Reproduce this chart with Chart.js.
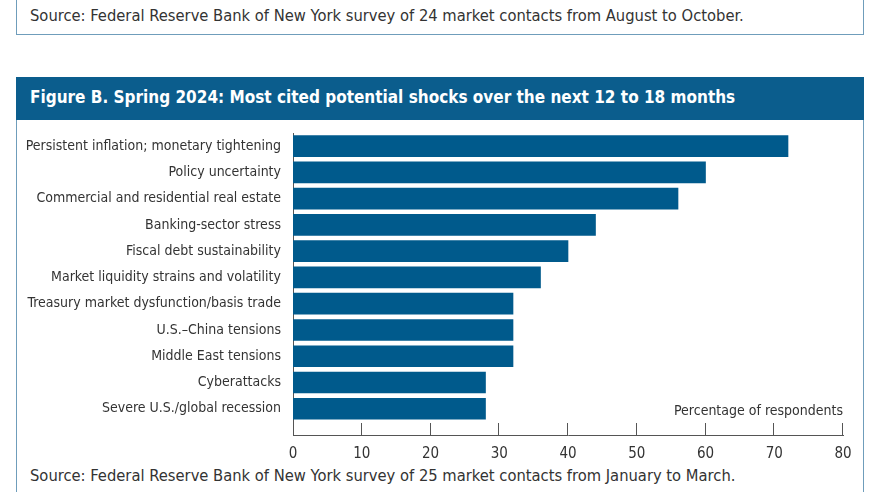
<!DOCTYPE html>
<html><head><meta charset="utf-8">
<script src="https://cdn.jsdelivr.net/npm/chart.js@4.4.1/dist/chart.umd.min.js"></script>
<style>
html,body{margin:0;padding:0;background:#fff;width:870px;height:492px;overflow:hidden;font-family:'DejaVu Sans Condensed','DejaVu Sans',sans-serif;font-stretch:condensed;color:#333}
.box{position:absolute;border:1.5px solid #6f9dbb;box-sizing:border-box}
#top{left:16px;top:-10px;width:848px;height:45px}
#fig{left:16px;top:77px;width:848px;height:440px}
#title{position:absolute;left:16px;top:77px;width:848px;height:43px;background:#0b5d8d;color:#fff;font-weight:bold;font-size:17px;line-height:41px;padding-left:14px;box-sizing:border-box;white-space:nowrap}
.src{position:absolute;left:30px;font-size:16.4px;line-height:18px;white-space:nowrap}
canvas{position:absolute;left:0;top:0}
</style>
</head><body>
<div class="box" id="top"></div>
<div class="src" style="top:7px">Source: Federal Reserve Bank of New York survey of 24 market contacts from August to October.</div>
<div class="box" id="fig"></div>
<div id="title">Figure B. Spring 2024: Most cited potential shocks over the next 12 to 18 months</div>
<div class="src" style="top:467px">Source: Federal Reserve Bank of New York survey of 25 market contacts from January to March.</div>
<canvas id="c" width="870" height="492"></canvas>
<script>
const categories = [
  "Persistent inflation; monetary tightening",
  "Policy uncertainty",
  "Commercial and residential real estate",
  "Banking-sector stress",
  "Fiscal debt sustainability",
  "Market liquidity strains and volatility",
  "Treasury market dysfunction/basis trade",
  "U.S.\u2013China tensions",
  "Middle East tensions",
  "Cyberattacks",
  "Severe U.S./global recession"
];
const values = [72, 60, 56, 44, 40, 36, 32, 32, 32, 28, 28];
const xTicks = [0, 10, 20, 30, 40, 50, 60, 70, 80];
const axisTitle = "Percentage of respondents";

const FONT = "'DejaVu Sans Condensed','DejaVu Sans',sans-serif";

const upTicks = {
  id: 'upTicks',
  afterDraw(chart) {
    const ctx = chart.ctx, xs = chart.scales.x, a = chart.chartArea;
    ctx.save();
    ctx.strokeStyle = '#555';
    ctx.lineWidth = 1;
    xTicks.forEach(v => {
      if (v === 0) return;
      const px = Math.round(xs.getPixelForValue(v)) - 0.5;
      ctx.beginPath();
      ctx.moveTo(px, a.bottom);
      ctx.lineTo(px, a.bottom - 12);
      ctx.stroke();
    });
    ctx.fillStyle = '#333';
    ctx.font = "14px " + FONT;
    ctx.textAlign = 'right';
    ctx.textBaseline = 'middle';
    ctx.fillText(axisTitle, a.right, a.bottom - 24);
    ctx.restore();
  }
};

new Chart(document.getElementById('c'), {
  type: 'bar',
  data: {
    datasets: [{
      data: values.map((v, i) => ({ x: v, y: i })),
      backgroundColor: '#005a8c',
      barThickness: 21
    }]
  },
  options: {
    indexAxis: 'y',
    responsive: false,
    animation: false,
    layout: { padding: { top: 133, right: 27, bottom: 27, left: 0 } },
    plugins: { legend: { display: false }, tooltip: { enabled: false } },
    scales: {
      y: {
        type: 'linear',
        reverse: true,
        offset: false,
        min: -0.5,
        max: 11,
        afterBuildTicks: s => { s.ticks = categories.map((_, i) => ({ value: i })); },
        afterFit: s => { s.width = 293; },
        ticks: {
          autoSkip: false,
          padding: 12,
          color: '#333',
          font: { family: FONT, size: 14 },
          callback: v => categories[v]
        },
        grid: { display: false, drawTicks: false, offset: false },
        border: { display: true, color: '#555', width: 1 }
      },
      x: {
        type: 'linear',
        min: 0,
        max: 80,
        afterBuildTicks: s => { s.ticks = xTicks.map(v => ({ value: v })); },
        afterFit: s => { s.height = 30; },
        ticks: {
          autoSkip: false,
          maxRotation: 0,
          padding: 10,
          color: '#333',
          font: { family: FONT, size: 15 }
        },
        grid: { display: false, drawTicks: false },
        border: { display: true, color: '#555', width: 1 }
      }
    }
  },
  plugins: [upTicks]
});
</script>
</body></html>
